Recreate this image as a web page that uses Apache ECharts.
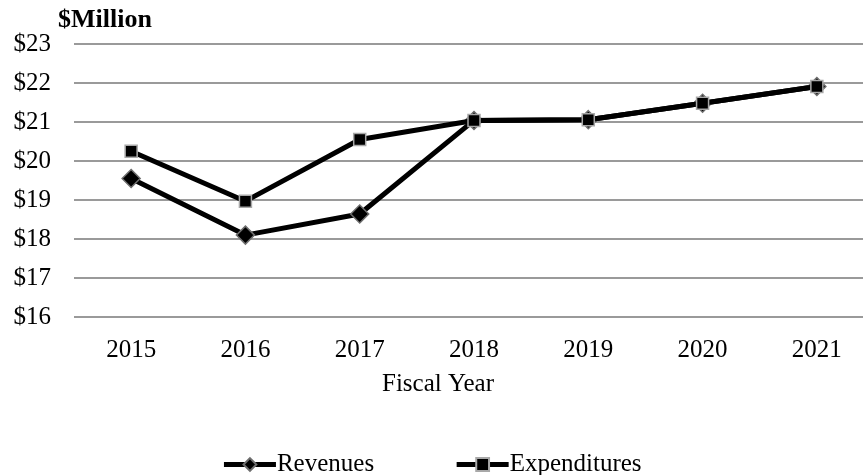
<!DOCTYPE html>
<html>
<head>
<meta charset="utf-8">
<script src="https://cdn.jsdelivr.net/npm/echarts@6/dist/echarts.min.js"></script>
<style>
  html, body { margin: 0; padding: 0; background: #fff; }
  #chart { width: 863px; height: 475px; }
</style>
</head>
<body>
<div id="chart"></div>
<script>
// Fiscal years on the category axis
const years = ['2015', '2016', '2017', '2018', '2019', '2020', '2021'];
// Values in $ millions
const revenues = [19.55, 18.10, 18.64, 21.04, 21.06, 21.48, 21.91];
const expenditures = [20.25, 18.97, 20.55, 21.04, 21.06, 21.48, 21.91];
// Value axis range
const yMin = 16, yMax = 23, yStep = 1;

const serif = '"Liberation Serif", "Times New Roman", serif';

const chart = echarts.init(document.getElementById('chart'), null, { renderer: 'canvas' });
chart.setOption({
  animation: false,
  backgroundColor: '#ffffff',
  textStyle: { fontFamily: serif, color: '#000' },
  title: {
    text: '$Million',
    left: 53,
    top: 2,
    textStyle: { fontFamily: serif, fontWeight: 'bold', fontSize: 26, color: '#000' }
  },
  // plot area runs past the right edge of the canvas
  grid: { left: 74, width: 800, top: 44, height: 273, outerBoundsMode: 'none', containLabel: false },
  legend: {
    bottom: -7,
    left: 'center',
    itemWidth: 52,
    itemHeight: 16,
    itemGap: 80,
    lineStyle: { width: 5 },
    textStyle: { fontFamily: serif, fontSize: 25, color: '#000', padding: [0, 0, 0, -4] },
    data: ['Revenues', 'Expenditures']
  },
  xAxis: {
    type: 'category',
    data: years,
    boundaryGap: true,
    axisLine: { show: false },
    axisTick: { show: false },
    axisLabel: { fontFamily: serif, fontSize: 25, color: '#000', margin: 21 },
    name: 'Fiscal Year',
    nameLocation: 'middle',
    nameGap: 55,
    nameTextStyle: { fontFamily: serif, fontSize: 25, color: '#000', padding: [0, 72, 0, 0] }
  },
  yAxis: {
    type: 'value',
    min: yMin,
    max: yMax,
    interval: yStep,
    axisLine: { show: false },
    axisTick: { show: false },
    axisLabel: {
      fontFamily: serif, fontSize: 25, color: '#000', margin: 23,
      formatter: v => '$' + v
    },
    splitLine: { show: true, lineStyle: { color: '#9a9a9a', width: 2 } }
  },
  series: [
    {
      name: 'Revenues',
      type: 'line',
      data: revenues,
      symbol: 'diamond',
      symbolSize: 18,
      z: 2,
      lineStyle: { color: '#000', width: 5 },
      itemStyle: { color: '#000', borderColor: '#6e6e6e', borderWidth: 1.5 }
    },
    {
      name: 'Expenditures',
      type: 'line',
      data: expenditures,
      symbol: 'rect',
      symbolSize: 12,
      z: 3,
      lineStyle: { color: '#000', width: 5 },
      itemStyle: { color: '#000', borderColor: '#a8a8a8', borderWidth: 1.5 }
    }
  ]
});
</script>
</body>
</html>
